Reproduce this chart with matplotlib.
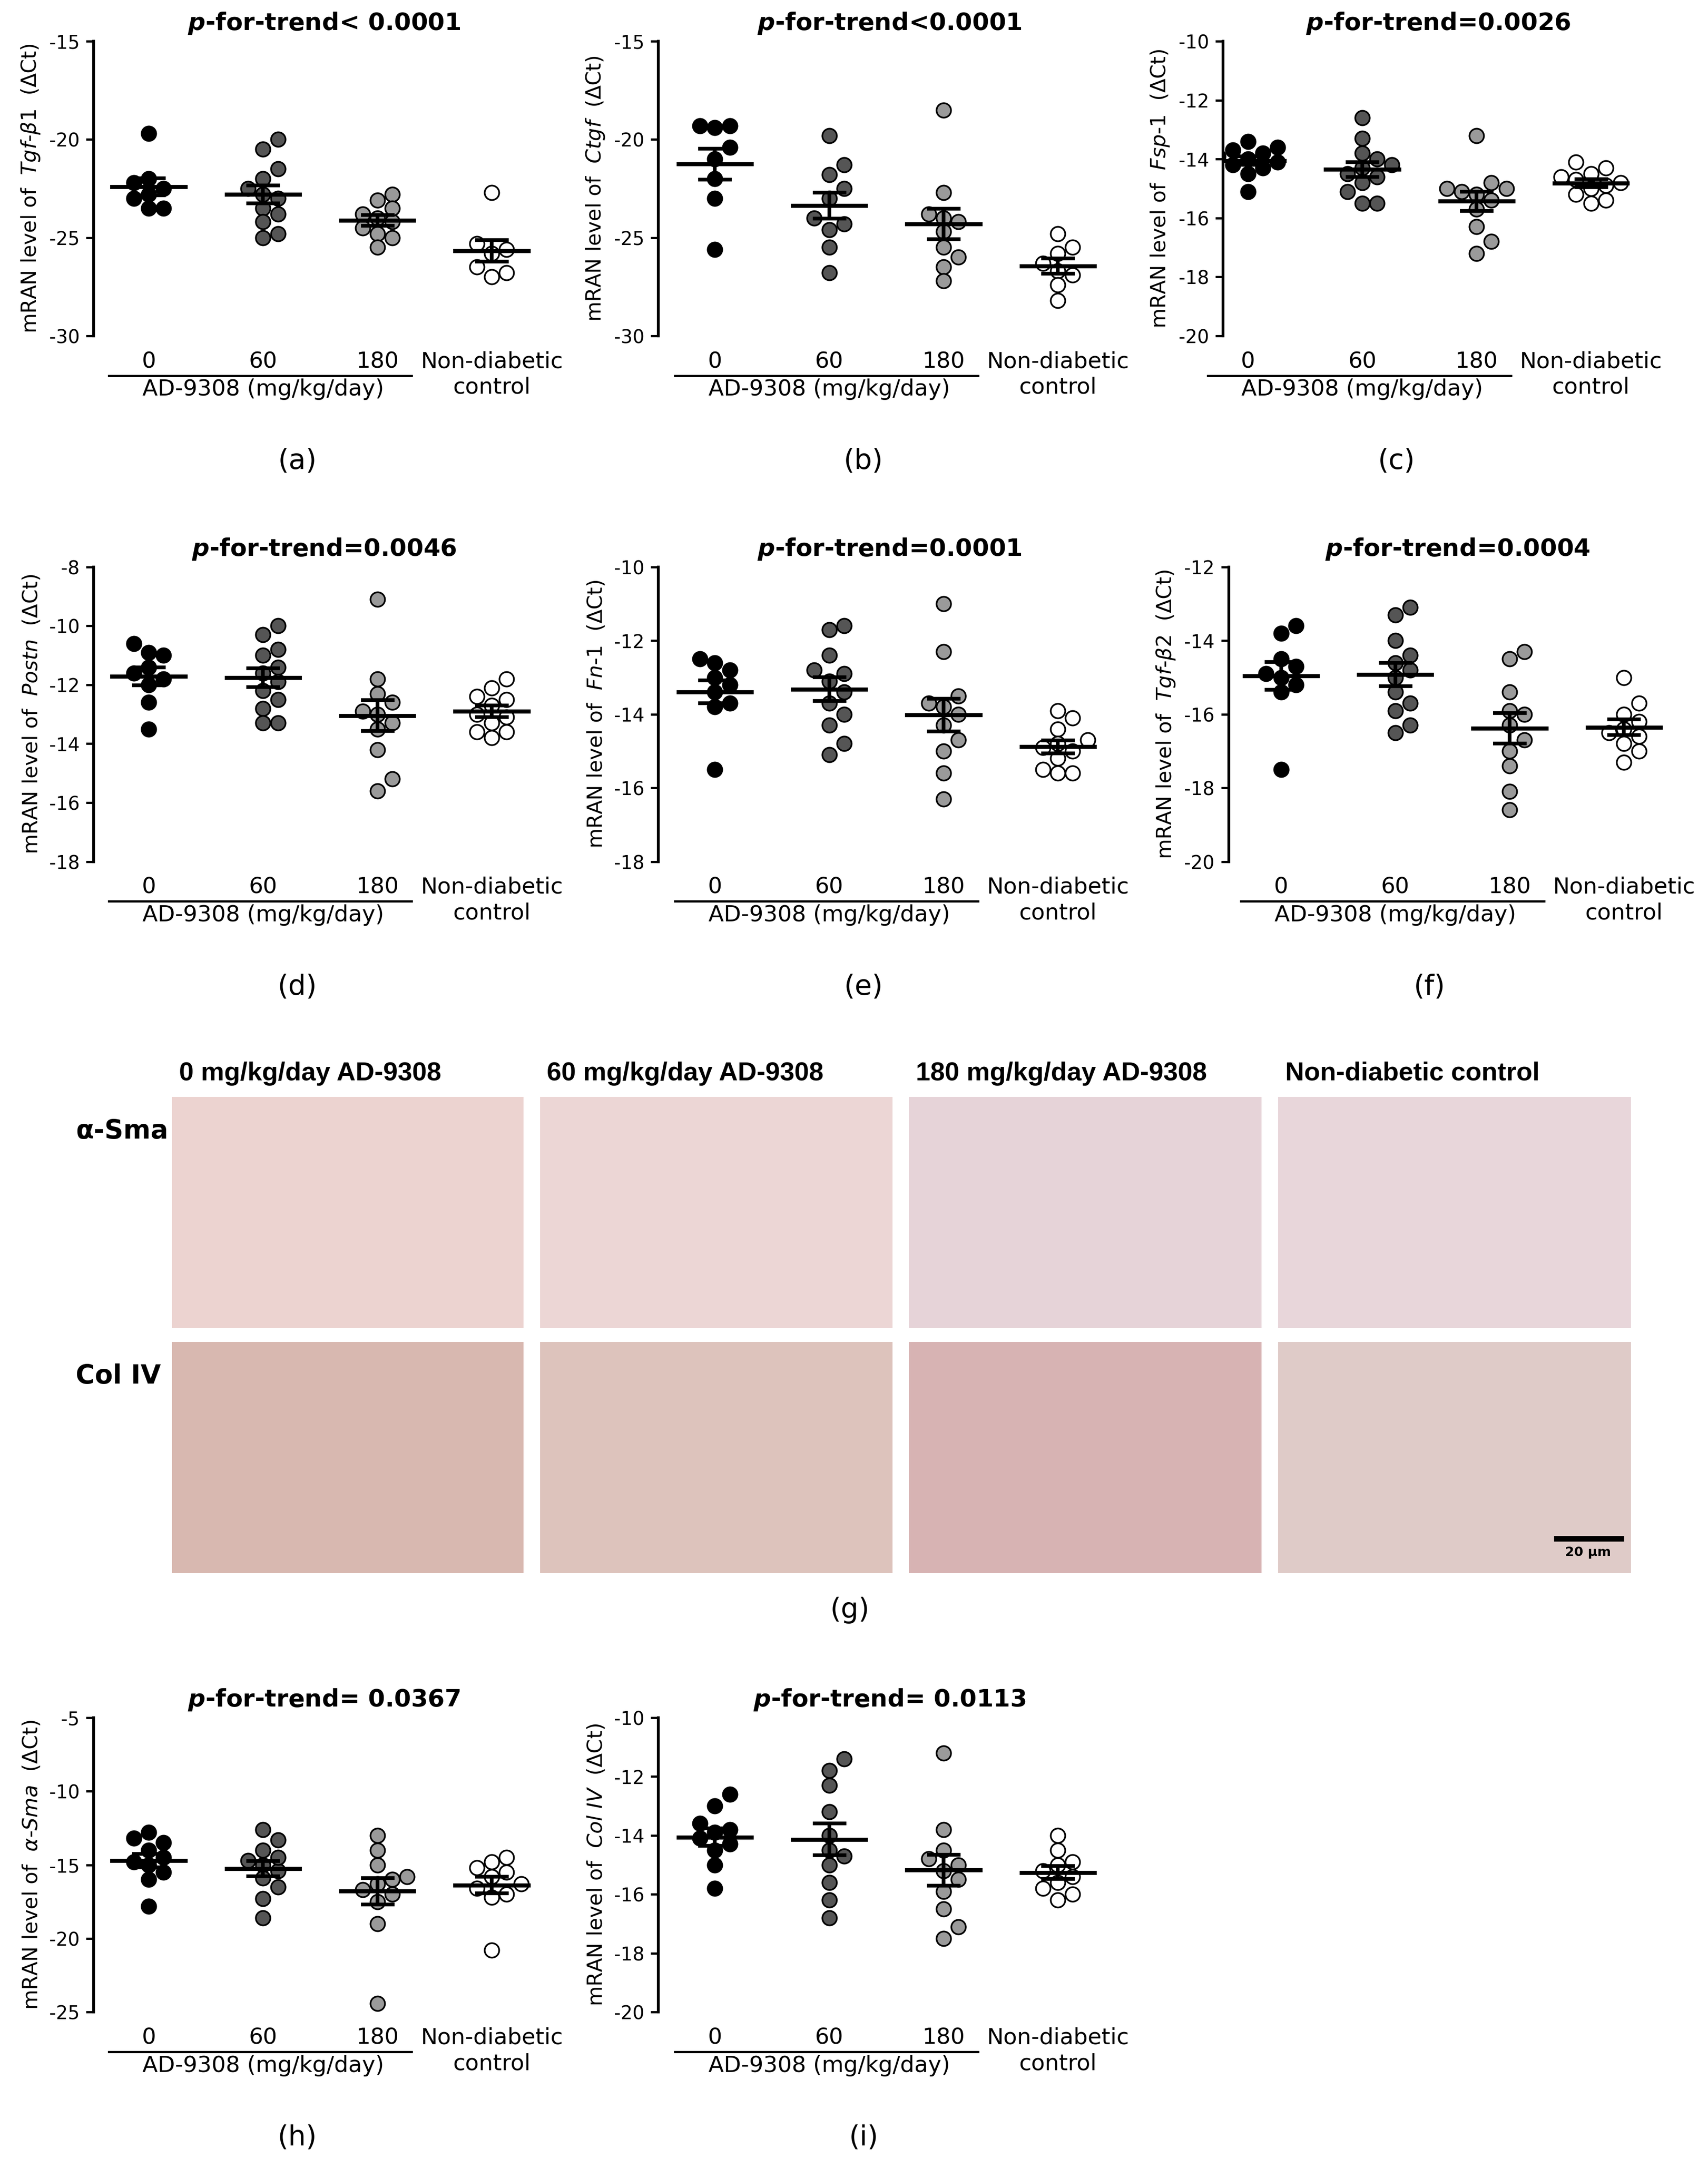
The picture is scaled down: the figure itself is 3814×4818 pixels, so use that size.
import numpy as np
import matplotlib
matplotlib.use("Agg")
import matplotlib.pyplot as plt
from matplotlib.patches import Rectangle

plt.rcParams['font.family'] = ['DejaVu Sans']
plt.rcParams['axes.unicode_minus'] = False

groups = ["0", "60", "180", "Non-diabetic\ncontrol"]
colors = ["#000000", "#555555", "#9a9a9a", "#ffffff"]

panels = [
 dict(lab="(a)", gene=r"Tgf\text{-}\beta1", title="< 0.0001", ylim=(-30, -15), ticks=[-15, -20, -25, -30],
      data=[[-19.7, -22.0, -22.2, -22.8, -23.0, -23.5, -23.5, -22.5],
            [-20.0, -20.5, -21.5, -22.0, -22.5, -23.0, -23.5, -23.8, -24.2, -24.8, -25.0, -22.8],
            [-22.8, -23.1, -23.8, -24.2, -24.5, -24.8, -25.0, -25.5, -23.5, -24.0],
            [-22.7, -25.3, -25.6, -26.5, -27.0, -26.8, -25.8]]),
 dict(lab="(b)", gene=r"Ctgf", title="<0.0001", ylim=(-30, -15), ticks=[-15, -20, -25, -30],
      data=[[-19.3, -19.4, -19.3, -20.4, -21.0, -22.0, -23.0, -25.6],
            [-19.8, -21.3, -21.8, -22.5, -23.0, -24.0, -24.3, -24.6, -25.5, -26.8],
            [-18.5, -22.7, -23.8, -24.2, -24.7, -25.5, -26.0, -26.5, -27.2, -24.0],
            [-24.8, -25.5, -25.8, -26.3, -26.7, -27.4, -28.2, -26.9]]),
 dict(lab="(c)", gene=r"Fsp\text{-}1", title="=0.0026", ylim=(-20, -10), ticks=[-10, -12, -14, -16, -18, -20],
      data=[[-13.4, -13.6, -13.8, -13.9, -14.0, -14.1, -14.2, -14.3, -14.5, -15.1, -13.7],
            [-12.6, -13.3, -13.8, -14.0, -14.3, -14.5, -14.8, -15.1, -15.5, -15.5, -14.6, -14.2],
            [-13.2, -14.8, -15.0, -15.0, -15.2, -15.4, -15.7, -16.3, -16.8, -17.2, -15.1],
            [-14.1, -14.3, -14.5, -14.7, -14.8, -14.9, -15.0, -15.2, -15.5, -15.4, -14.6]]),
 dict(lab="(d)", gene=r"Postn", title="=0.0046", ylim=(-18, -8), ticks=[-8, -10, -12, -14, -16, -18],
      data=[[-10.6, -10.9, -11.0, -11.4, -11.6, -11.8, -12.0, -12.6, -13.5],
            [-10.0, -10.3, -10.8, -11.4, -11.6, -11.9, -12.2, -12.5, -12.8, -13.3, -13.3, -11.0],
            [-9.1, -11.8, -12.3, -12.6, -13.0, -13.3, -13.5, -14.2, -15.2, -15.6, -12.9],
            [-11.8, -12.1, -12.4, -12.7, -13.0, -13.1, -13.3, -13.6, -13.8, -13.6, -12.5]]),
 dict(lab="(e)", gene=r"Fn\text{-}1", title="=0.0001", ylim=(-18, -10), ticks=[-10, -12, -14, -16, -18],
      data=[[-12.5, -12.6, -12.8, -13.0, -13.2, -13.4, -13.7, -13.8, -15.5],
            [-11.6, -11.7, -12.4, -12.8, -13.1, -13.4, -13.7, -14.0, -14.3, -14.8, -15.1, -12.9],
            [-11.0, -12.3, -13.5, -13.8, -14.0, -14.3, -14.7, -15.0, -15.6, -16.3, -13.7],
            [-13.9, -14.1, -14.4, -14.7, -14.9, -15.0, -15.2, -15.5, -15.6, -15.6, -14.8]]),
 dict(lab="(f)", gene=r"Tgf\text{-}\beta2", title="=0.0004", ylim=(-20, -12), ticks=[-12, -14, -16, -18, -20],
      data=[[-13.6, -13.8, -14.5, -14.7, -14.9, -15.0, -15.2, -15.4, -17.5],
            [-13.1, -13.3, -14.0, -14.4, -14.8, -15.0, -15.4, -15.9, -16.3, -16.5, -14.6, -15.7],
            [-14.3, -14.5, -15.4, -15.9, -16.3, -16.7, -17.0, -17.4, -18.1, -18.6, -16.0],
            [-15.0, -15.7, -16.0, -16.2, -16.4, -16.6, -16.8, -17.0, -17.3, -16.5]]),
 dict(lab="(h)", gene=r"\alpha\text{-}Sma", title="= 0.0367", ylim=(-25, -5), ticks=[-5, -10, -15, -20, -25],
      data=[[-12.8, -13.5, -14.0, -14.5, -14.8, -15.0, -15.5, -16.0, -17.8, -13.2],
            [-12.6, -13.3, -14.0, -14.7, -15.0, -15.4, -15.9, -16.5, -17.3, -18.6, -14.5],
            [-13.0, -14.0, -15.0, -15.8, -16.3, -16.7, -17.0, -17.5, -19.0, -24.4, -16.0],
            [-14.5, -14.8, -15.2, -15.8, -16.3, -16.6, -17.0, -17.2, -20.8, -15.5]]),
 dict(lab="(i)", gene=r"Col\ IV", title="= 0.0113", ylim=(-20, -10), ticks=[-10, -12, -14, -16, -18, -20],
      data=[[-12.6, -13.0, -13.6, -13.9, -14.1, -14.3, -14.5, -15.0, -15.8, -13.8],
            [-11.4, -11.8, -12.3, -13.2, -14.0, -14.5, -15.0, -15.6, -16.2, -16.8, -14.7],
            [-11.2, -13.8, -14.5, -15.0, -15.2, -15.5, -15.9, -16.5, -17.1, -17.5, -14.8],
            [-14.0, -14.5, -14.9, -15.2, -15.4, -15.6, -16.0, -15.8, -16.2, -15.0]]),
]

W, H = 1240.0, 1568.0
geo = [(68, 108, 30, 244), (478, 519, 30, 244), (888, 906, 30, 244),
       (68, 108, 412, 626), (478, 519, 412, 626), (892, 930, 412, 626),
       (68, 108, 1248, 1462), (478, 519, 1248, 1462)]
SP = 83.0

fig = plt.figure(figsize=(3814 / 300, 4818 / 300), dpi=300)


def swarm(vals, yrange):
    vals = np.asarray(vals, float)
    order = np.argsort(vals)
    xs = np.zeros(len(vals))
    placed = []
    dy = yrange * 0.045
    dx = 0.13
    for i in order:
        y = vals[i]
        for k in [0, 1, -1, 2, -2, 3, -3]:
            x = k * dx
            ok = all((abs(x - px) / dx) ** 2 + ((y - py) / dy) ** 2 >= 1.0 for px, py in placed)
            if ok:
                break
        xs[i] = x
        placed.append((x, y))
    return xs


for p, (sx, cx, ty, by) in zip(panels, geo):
    off = (cx - sx) / SP
    xmax = 4.55
    wpx = (xmax - (1 - off)) * SP
    ax = fig.add_axes([sx / W, 1 - by / H, wpx / W, (by - ty) / H])
    yr = p["ylim"][1] - p["ylim"][0]
    for gi, vals in enumerate(p["data"]):
        xpos = gi + 1
        xs = swarm(vals, yr)
        ax.scatter(xpos + xs, vals, s=60, c=colors[gi], edgecolors="black", linewidths=0.9, zorder=3)
        m = np.mean(vals)
        se = np.std(vals, ddof=1) / np.sqrt(len(vals))
        ax.plot([xpos - 0.32, xpos + 0.32], [m, m], color="black", lw=2.2, zorder=4)
        ax.errorbar([xpos], [m], yerr=[se], fmt="none", ecolor="black", elinewidth=2.0, capsize=9, capthick=2.0, zorder=4)
    ax.set_xlim(1 - off, xmax)
    ax.set_ylim(*p["ylim"])
    ax.set_yticks(p["ticks"])
    ax.set_xticks([1, 2, 3, 4])
    ax.set_xticklabels(groups, fontsize=12, linespacing=1.25, va="top")
    ax.tick_params(axis="x", length=0, pad=8)
    ax.tick_params(axis="y", labelsize=10, length=4, width=1.2)
    for s in ["top", "right", "bottom"]:
        ax.spines[s].set_visible(False)
    ax.spines["left"].set_linewidth(1.5)
    ax.set_ylabel(r"mRAN level of  $\mathit{" + p["gene"] + r"}$  (ΔCt)", fontsize=11)
    ax.set_title(r"$\mathbfit{p}$" + "-for-trend" + p["title"], fontsize=13, fontweight="bold", pad=6)
    ax.plot([0.65, 3.3], [-0.135, -0.135], transform=ax.get_xaxis_transform(), color="black", lw=1.2, clip_on=False)
    ax.text(2.0, -0.145, "AD-9308 (mg/kg/day)", transform=ax.get_xaxis_transform(), ha="center", va="top", fontsize=12)
    ax.text(2.3, -0.38, p["lab"], transform=ax.get_xaxis_transform(), ha="center", va="top", fontsize=15)

col_titles = ["0 mg/kg/day AD-9308", "60 mg/kg/day AD-9308", "180 mg/kg/day AD-9308", "Non-diabetic control"]
img_x = [(125, 380), (392, 648), (660, 916), (928, 1184)]
rows = [(797, 965), (975, 1143)]
row_cols = [["#ecd3d0", "#ecd6d5", "#e6d3d8", "#e8d6da"],
            ["#d8b8b0", "#ddc3bc", "#d7b3b3", "#dfcbc8"]]
axg = fig.add_axes([0, 0, 1, 1])
axg.set_xlim(0, W)
axg.set_ylim(H, 0)
axg.axis("off")
for ci, (x0, x1) in enumerate(img_x):
    axg.text(x0 + 5, 780, col_titles[ci], fontsize=14, fontweight="bold", ha="left", va="center",
             family=["Liberation Sans", "DejaVu Sans"])
    for ri, (y0, y1) in enumerate(rows):
        axg.add_patch(Rectangle((x0, y0), x1 - x0, y1 - y0, facecolor=row_cols[ri][ci], edgecolor="none"))
axg.text(55, 822, "α-Sma", fontsize=14, fontweight="bold", va="center")
axg.text(55, 1000, "Col IV", fontsize=14, fontweight="bold", va="center")
axg.plot([1130, 1177], [1118, 1118], color="black", lw=3)
axg.text(1153, 1128, "20 μm", fontsize=7, fontweight="bold", ha="center", va="center")
axg.text(617, 1170, "(g)", fontsize=15, ha="center", va="center")

fig.savefig("out.png", dpi=300)
